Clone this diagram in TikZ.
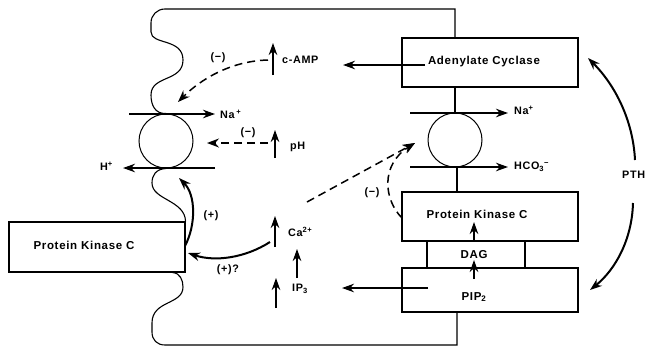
\documentclass[tikz,border=0pt]{standalone}
\usepackage{fontspec}
\setmainfont{Liberation Sans}
\newfontfamily\labfont[LetterSpace=6]{Liberation Sans Bold}
\usetikzlibrary{arrows.meta}
\tikzset{
  cell/.style={line width=1.1pt},
  boxst/.style={draw, line width=1.1pt, inner sep=0pt},
  ring/.style={draw, circle, line width=1pt, minimum size=54pt, inner sep=0pt},
  lab/.style={font=\labfont\fontsize{10.8}{12}\selectfont, inner sep=0pt},
  blab/.style={font=\labfont\fontsize{11.5}{13}\selectfont, inner sep=0pt},
  thk/.style={line width=2.5pt, -{Stealth[length=12pt,width=8.5pt]}},
  crv/.style={line width=2pt, -{Stealth[length=12pt,width=8.5pt]}},
  dsh/.style={line width=1.5pt, dash pattern=on 8pt off 5pt, -{Stealth[length=12pt,width=9pt]}},
}
\begin{document}
\begin{tikzpicture}[x=1pt,y=-1pt]
\useasboundingbox (0,0) rectangle (646,349);
% boxes
\node[boxst, minimum width=176pt, minimum height=50pt] (pkcL) at (97,247) {};
\node[boxst, minimum width=176pt, minimum height=49pt] (ac) at (490,62.5) {};
\node[boxst, minimum width=176pt, minimum height=49pt] (pkcR) at (490,216.5) {};
\node[boxst, minimum width=98pt, minimum height=27pt] (dag) at (476,254.5) {};
\node[boxst, minimum width=176pt, minimum height=44pt] (pip) at (490,290) {};
% box texts
\node[blab] (pkcLt) at (84,245) {Protein Kinase C};
\node[blab] (act) at (484,62) {Adenylate Cyclase};
\node[blab] (pkcRt) at (477,214) {Protein Kinase C};
\node[blab] (dagt) at (474,255) {DAG};
\node[blab] (pipt) at (474,297) {PIP\textsubscript{2}};
% exchangers
\node[ring] (cL) at (166,141) {};
\node[ring] (cR) at (455,140) {};
% cell outline
\draw[cell] (cR |- ac.north) -- (455,9) -- (165,9)
  .. controls (157,9) and (151,15) .. (151,23) -- (151,32)
  .. controls (151,45) and (183,38) .. (183,60)
  .. controls (183,82) and (151,75) .. (151,95)
  .. controls (151,105) and (155,114) .. (cL.north);
\draw[cell] (cL.south) .. controls (156,169) and (152,175) .. (152,183)
  .. controls (152,200) and (185,200) .. (pkcL.north east);
\draw[cell] ([xshift=-13pt]pkcL.south east) .. controls (180,273) and (183,280) .. (183,287)
  .. controls (183,305) and (152,300) .. (152,323) -- (152,332)
  .. controls (152,340) and (157,345) .. (165,345) -- (457,345) -- (457,312);
\draw[cell] (cR |- ac.south) -- (cR.north);
\draw[cell] (457,167) -- (457,192);
% coordinates
\coordinate (naLs) at (129,114); \coordinate (naLe) at (215,114);
\coordinate (hLs) at (215,168); \coordinate (hLe) at (123,168);
\coordinate (naRs) at (410,113); \coordinate (naRe) at (508,113);
\coordinate (hcRs) at (410,167); \coordinate (hcRe) at (508,167);
\coordinate (campS) at (273,75); \coordinate (campE) at (273,43);
\coordinate (campD) at (268,60); \coordinate (campT) at (178,102);
\coordinate (phS) at (275,158); \coordinate (phE) at (275,130);
\coordinate (phD) at (268,143); \coordinate (phT) at (207,143);
\coordinate (acS) at (425,65); \coordinate (acE) at (343,65);
\coordinate (pipS) at (428,288); \coordinate (pipE) at (342,288);
\coordinate (dagS) at (474,241); \coordinate (dagE) at (474,222);
\coordinate (ppS) at (474,279); \coordinate (ppE) at (474,260);
\coordinate (caAS) at (275,247); \coordinate (caAE) at (275,216);
\coordinate (caBS) at (297,278); \coordinate (caBE) at (297,249);
\coordinate (caCS) at (276,308); \coordinate (caCE) at (276,278);
\coordinate (caK) at (270,242); \coordinate (kT) at (188,253);
\coordinate (kS) at (185,246); \coordinate (kE) at (179,178);
\coordinate (caD) at (307,202); \coordinate (rT) at (415,143);
\coordinate (pkD) at (402,218);
\coordinate (pthA) at (635,160); \coordinate (pthAT) at (588,58);
\coordinate (pthB) at (633,203); \coordinate (pthBT) at (590,290);
% transport arrows
\draw[thk] (naLs) -- (naLe);
\draw[thk] (hLs) -- (hLe);
\draw[thk] (naRs) -- (naRe);
\draw[thk] (hcRs) -- (hcRe);
% up arrows
\draw[thk] (campS) -- (campE);
\draw[thk] (phS) -- (phE);
\draw[thk] (caAS) -- (caAE);
\draw[thk] (caBS) -- (caBE);
\draw[thk] (caCS) -- (caCE);
\draw[thk] (dagS) -- (dagE);
\draw[thk] (ppS) -- (ppE);
% left arrows
\draw[thk] (acS) -- (acE);
\draw[thk] (pipS) -- (pipE);
% dashed
\draw[dsh] (campD) .. controls (230,61) and (200,80) .. (campT);
\draw[dsh] (phD) -- (phT);
\draw[dsh] (caD) -- (rT);
\draw[dsh] (pkD) .. controls (384,200) and (380,165) .. (rT);
% curves
\draw[crv] (caK) .. controls (245,258) and (215,262) .. (kT);
\draw[crv] (kS) .. controls (196,225) and (196,195) .. (kE);
\draw[crv] (pthA) .. controls (633,120) and (615,85) .. (pthAT);
\draw[crv] (pthB) .. controls (632,240) and (615,270) .. (pthBT);
% labels
\node[lab, anchor=west] (naL) at (220,114) {Na\,\textsuperscript{+}};
\node[lab, anchor=east] (hL) at (113,166) {H\textsuperscript{+}};
\node[lab] (mc) at (218,58) {(−)};
\node[lab, anchor=west] (camp) at (282,60) {c-AMP};
\node[lab] (mp) at (248,133) {(−)};
\node[lab, anchor=west] (ph) at (290,147) {pH};
\node[lab, anchor=west] (naR) at (514,110) {Na\textsuperscript{+}};
\node[lab, anchor=west] (hco) at (514,167) {HCO\textsubscript{3}\textsuperscript{−}};
\node[lab, anchor=west] (pth) at (622,175) {PTH};
\node[lab] (pl) at (211,216) {(+)};
\node[lab] (plq) at (228,270) {(+)?};
\node[lab, anchor=west] (ca) at (288,232) {Ca\textsuperscript{2+}};
\node[lab, anchor=west] (ip) at (292,289) {IP\textsubscript{3}};
\node[lab] (mr) at (372,193) {(−)};
\end{tikzpicture}
\end{document}
